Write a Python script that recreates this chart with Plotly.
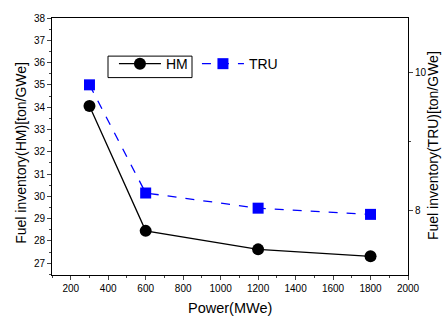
import plotly.graph_objects as go

power = [300, 600, 1200, 1800]
hm = [34.05, 28.45, 27.62, 27.31]
tru = [9.82, 8.25, 8.03, 7.94]

font = "Liberation Sans, Arial, sans-serif"

fig = go.Figure()
fig.add_trace(go.Scatter(x=power, y=hm, name="HM", mode="lines+markers",
                         line=dict(color="black", width=1.3),
                         marker=dict(symbol="circle", size=12, color="black")))
fig.add_trace(go.Scatter(x=power, y=tru, name="TRU", mode="lines+markers", yaxis="y2",
                         line=dict(color="blue", width=1.3, dash="dash"),
                         marker=dict(symbol="square", size=11, color="blue")))

W, H = 446, 322
L, R, T, B = 52, 38, 12, 47
pw, ph = W - L - R, H - T - B

def px(x):
    return (x - L) / pw

def py(y):
    return (H - B - y) / ph

fig.update_layout(
    width=W, height=H,
    margin=dict(l=L, r=R, t=T, b=B),
    paper_bgcolor="white", plot_bgcolor="white",
    font=dict(family=font, color="black"),
    showlegend=True,
    legend=dict(orientation="h", x=0.174, y=0.883, xanchor="left", yanchor="top",
                bgcolor="rgba(0,0,0,0)", font=dict(size=14, family=font),
                itemwidth=42, entrywidth=26, entrywidthmode="pixels"),
    xaxis=dict(range=[100, 2000], dtick=200, tick0=0, ticks="outside", ticklen=4,
               minor=dict(dtick=100, ticks="outside", ticklen=2),
               showline=True, linecolor="black", linewidth=1, mirror=True,
               showgrid=False, zeroline=False, tickfont=dict(size=10)),
    yaxis=dict(range=[26.47, 38], dtick=1, ticks="outside", ticklen=4,
               minor=dict(dtick=0.5, ticks="outside", ticklen=2),
               showline=True, linecolor="black", linewidth=1,
               showgrid=False, zeroline=False, tickfont=dict(size=10)),
    yaxis2=dict(range=[7.06, 10.79], overlaying="y", side="right",
                tickvals=[8, 10], ticks="outside", ticklen=4,
                minor=dict(dtick=1, ticks="outside", ticklen=2),
                showline=True, linecolor="black", linewidth=1,
                showgrid=False, zeroline=False, tickfont=dict(size=10)),
    shapes=[dict(type="rect", xref="paper", yref="paper", x0=px(108), x1=px(192),
                 y0=py(73), y1=py(51), line=dict(color="black", width=1))],
    annotations=[
        dict(text="Power(MWe)", xref="paper", yref="paper", x=px(230), y=py(309),
             xanchor="center", yanchor="middle", showarrow=False, font=dict(size=14.5)),
        dict(text="Fuel inventory(HM)[ton/GWe]", xref="paper", yref="paper",
             x=px(21), y=py(150), xanchor="center", yanchor="middle", textangle=-90,
             showarrow=False, font=dict(size=14)),
        dict(text="Fuel inventory(TRU)[ton/GWe]", xref="paper", yref="paper",
             x=px(433), y=py(143), xanchor="center", yanchor="middle", textangle=-90,
             showarrow=False, font=dict(size=14)),
    ],
)

fig.write_html("out.html", config={"displayModeBar": False},
               post_script="document.body.style.margin='0';document.body.style.overflow='hidden';")
